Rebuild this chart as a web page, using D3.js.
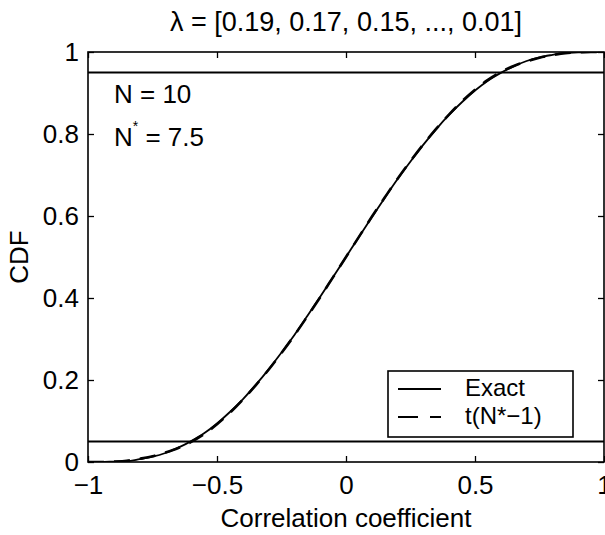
<!DOCTYPE html>
<html>
<head>
<meta charset="utf-8">
<script src="https://cdn.jsdelivr.net/npm/d3@7"></script>
<style>
  html, body { margin: 0; padding: 0; background: #fff; }
  svg { display: block; }
  text { font-family: "Liberation Sans", Arial, Helvetica, sans-serif; fill: #000; }
</style>
</head>
<body>
<svg id="chart" width="605" height="535"></svg>
<script>
// ---- data ----
const rValues = [-1, -0.95, -0.9, -0.85, -0.8, -0.75, -0.7, -0.65, -0.6, -0.55, -0.5, -0.45, -0.4, -0.35, -0.3, -0.25, -0.2, -0.15, -0.1, -0.05,
                 0, 0.05, 0.1, 0.15, 0.2, 0.25, 0.3, 0.35, 0.4, 0.45, 0.5, 0.55, 0.6, 0.65, 0.7, 0.75, 0.8, 0.85, 0.9, 0.95, 1];
const exactCDF = [0, 0, 0.001, 0.002, 0.007, 0.013, 0.022, 0.035, 0.051, 0.070, 0.094, 0.122, 0.153, 0.188, 0.226, 0.267, 0.310, 0.356, 0.403, 0.451,
                  0.5, 0.549, 0.597, 0.644, 0.690, 0.733, 0.774, 0.812, 0.847, 0.878, 0.906, 0.930, 0.949, 0.965, 0.978, 0.987, 0.993, 0.998, 0.999, 1, 1];
const tCDF = [0, 0, 0.001, 0.003, 0.008, 0.014, 0.023, 0.034, 0.049, 0.068, 0.092, 0.120, 0.152, 0.187, 0.225, 0.266, 0.309, 0.355, 0.402, 0.451,
              0.5, 0.549, 0.598, 0.645, 0.691, 0.734, 0.775, 0.813, 0.848, 0.880, 0.908, 0.932, 0.951, 0.966, 0.977, 0.986, 0.992, 0.997, 0.999, 1, 1];
const refLevels = [0.05, 0.95];
const xTicks = [-1, -0.5, 0, 0.5, 1];
const yTicks = [0, 0.2, 0.4, 0.6, 0.8, 1];
const seriesNames = ["Exact", "t(N*\u22121)"];
const titleText = "\u03bb = [0.19, 0.17, 0.15, ..., 0.01]";
const xLabel = "Correlation coefficient";
const yLabel = "CDF";

// ---- layout ----
const svg = d3.select("#chart");
const L = 88, R = 604, T = 52, B = 462;
const x = d3.scaleLinear().domain([-1, 1]).range([L, R]);
const y = d3.scaleLinear().domain([0, 1]).range([B, T]);
const FS = 26;
const fmt = d => (d < 0 ? "\u2212" : "") + String(Math.abs(d));

// clip
svg.append("clipPath").attr("id", "clip")
  .append("rect").attr("x", L).attr("y", T).attr("width", R - L).attr("height", B - T);

const plot = svg.append("g").attr("clip-path", "url(#clip)");

// reference lines
plot.selectAll("line.ref").data(refLevels).enter().append("line")
  .attr("x1", L).attr("x2", R)
  .attr("y1", d => y(d)).attr("y2", d => y(d))
  .attr("stroke", "#000").attr("stroke-width", 2);

const line = d3.line().x((d, i) => x(rValues[i])).y(d => y(d)).curve(d3.curveMonotoneX);

plot.append("path").datum(exactCDF).attr("d", line)
  .attr("fill", "none").attr("stroke", "#000").attr("stroke-width", 1.8);
plot.append("path").datum(tCDF).attr("d", line)
  .attr("fill", "none").attr("stroke", "#000").attr("stroke-width", 2.6)
  .attr("stroke-dasharray", "16,10");

// axes (ticks inward, all four sides)
const tl = 6;
const axB = d3.axisBottom(x).tickValues(xTicks).tickSize(-tl).tickPadding(14).tickFormat(fmt);
const axT = d3.axisTop(x).tickValues(xTicks).tickSize(-tl).tickFormat("");
const axLft = d3.axisLeft(y).tickValues(yTicks).tickSize(-tl).tickPadding(9).tickFormat(d => String(d));
const axRt = d3.axisRight(y).tickValues(yTicks).tickSize(-tl).tickFormat("");

function style(g) {
  g.select(".domain").remove();
  g.selectAll(".tick line").attr("stroke", "#000").attr("stroke-width", 1.3);
  g.selectAll("text").style("font-size", FS + "px").attr("fill", "#000");
}
svg.append("g").attr("transform", `translate(0,${B})`).call(axB).call(style);
svg.append("g").attr("transform", `translate(0,${T})`).call(axT).call(style);
svg.append("g").attr("transform", `translate(${L},0)`).call(axLft).call(style);
svg.append("g").attr("transform", `translate(${R},0)`).call(axRt).call(style);

// box
svg.append("rect").attr("x", L).attr("y", T).attr("width", R - L).attr("height", B - T)
  .attr("fill", "none").attr("stroke", "#000").attr("stroke-width", 1.6);

// title and labels
svg.append("text").attr("x", (L + R) / 2).attr("y", 31).attr("text-anchor", "middle")
  .style("font-size", "27px").text(titleText);
svg.append("text").attr("x", (L + R) / 2).attr("y", 527).attr("text-anchor", "middle")
  .style("font-size", FS + "px").text(xLabel);
svg.append("text").attr("transform", `translate(28,${y(0.5)}) rotate(-90)`).attr("text-anchor", "middle")
  .style("font-size", FS + "px").text(yLabel);

// annotations
svg.append("text").attr("x", 114).attr("y", 103).style("font-size", FS + "px").text("N = 10");
const t2 = svg.append("text").attr("x", 114).attr("y", 146).style("font-size", FS + "px");
t2.append("tspan").text("N");
t2.append("tspan").attr("dy", -15).style("font-size", "14px").text("*");
t2.append("tspan").attr("dy", 15).text(" = 7.5");

// legend
const lg = svg.append("g");
lg.append("rect").attr("x", 388).attr("y", 371).attr("width", 185).attr("height", 66)
  .attr("fill", "#fff").attr("stroke", "#000").attr("stroke-width", 1.6);
const rows = [{ name: seriesNames[0], dash: null, base: 396 }, { name: seriesNames[1], dash: "20,12", base: 424 }];
rows.forEach(r => {
  lg.append("line").attr("x1", 398).attr("x2", 441).attr("y1", r.base - 7).attr("y2", r.base - 7)
    .attr("stroke", "#000").attr("stroke-width", 1.8).attr("stroke-dasharray", r.dash);
  lg.append("text").attr("x", 465).attr("y", r.base).style("font-size", "24px").text(r.name);
});
</script>
</body>
</html>
